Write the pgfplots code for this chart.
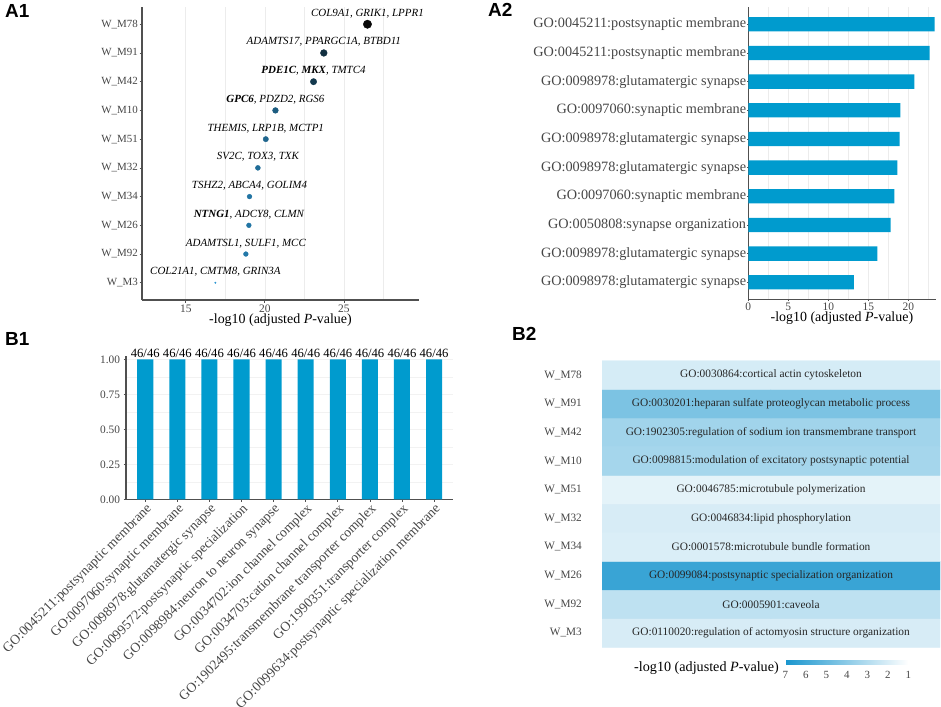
\documentclass[border=0pt]{standalone}
\usepackage{fontspec}
\setmainfont{Liberation Serif}
\newfontfamily\panelfont{Liberation Sans}
\usepackage{pgfplots}
\usepackage{pgfplotstable}
\pgfplotsset{compat=1.18}

\definecolor{barblue}{RGB}{0,155,206}
\definecolor{gridgray}{RGB}{236,236,236}
\definecolor{axisgray}{RGB}{80,80,80}
\definecolor{ticktext}{RGB}{70,70,70}

\newcommand{\fsz}[1]{\fontsize{#1}{#1}\selectfont}

\pgfplotsset{
  gg/.style={
    scale only axis,
    /pgf/number format/assume math mode=true,
    axis lines*=left,
    axis line style={-, axisgray, line width=1.1bp},
    tick style={axisgray, line width=0.7bp},
    tick align=outside,
    major tick length=2.5bp,
    minor tick length=0pt,
    grid style={gridgray, line width=0.6bp},
    minor grid style={gridgray, line width=0.5bp},
    ticklabel style={text=ticktext},
  }
}

% A1: module enrichment (x = -log10 adj. p, y = module row, r = dot radius)
\pgfplotstableread{
x     y  r
16.87 1  0.8
18.80 2  2.4
18.99 3  2.4
19.03 4  2.4
19.56 5  2.5
20.06 6  2.7
20.67 7  2.9
23.08 8  3.2
23.73 9  3.4
26.49 10 4.2
}\modA

% A2: top GO term per module
\pgfplotstableread{
y  v
10 23.30
9  22.67
8  20.75
7  19.00
6  18.92
5  18.63
4  18.25
3  17.80
2  16.13
1  13.20
}\goA

% B2: heatmap of -log10 adj. p (two identical columns span the cell width)
\pgfplotstableread{
x y v
0 1 2.05
1 1 2.05
0 2 2.68
1 2 2.68
0 3 6.15
1 3 6.15
0 4 1.95
1 4 1.95
0 5 2.05
1 5 2.05
0 6 1.70
1 6 1.70
0 7 3.35
1 7 3.35
0 8 3.45
1 8 3.45
0 9 4.40
1 9 4.40
0 10 2.10
1 10 2.10
}\goB

\begin{document}
\begin{tikzpicture}
\useasboundingbox (0,0) rectangle (941bp,-707bp);

% panel letters
\node[font=\panelfont\bfseries\fsz{19}, anchor=north west, inner sep=0] at (5bp,-4bp) {A1};
\node[font=\panelfont\bfseries\fsz{19}, anchor=north west, inner sep=0] at (488bp,-3bp) {A2};
\node[font=\panelfont\bfseries\fsz{19}, anchor=north west, inner sep=0] at (5bp,-332bp) {B1};
\node[font=\panelfont\bfseries\fsz{19}, anchor=north west, inner sep=0] at (512bp,-327bp) {B2};

% ---------------- A1 ----------------
\begin{axis}[gg,
  at={(142bp,-300bp)}, anchor=south west,
  width=277bp, height=293bp,
  clip=false,
  xmin=12.23, xmax=29.75, ymin=0.4, ymax=10.6,
  xtick={15,20,25}, minor xtick={17.5,22.5,27.5},
  xmajorgrids, xminorgrids,
  ytick={1,...,10},
  yticklabels={W\_M3,W\_M92,W\_M26,W\_M34,W\_M32,W\_M51,W\_M10,W\_M42,W\_M91,W\_M78},
  xticklabel style={font=\fsz{11.5}, inner ysep=2bp},
  yticklabel style={font=\fsz{11}, inner xsep=1.5bp},
  xlabel={-log10 (adjusted \textit{P}-value)},
  xlabel style={font=\fsz{14}, at={(axis description cs:0.5,0)}, anchor=center, yshift=-20bp},
  colormap={modmap}{rgb255(0cm)=(42,148,208) rgb255(1cm)=(8,8,8)},
  point meta min=16.87, point meta max=26.49,
]
\addplot[scatter, only marks, mark=*,
  point meta=\thisrow{x},
  scatter/use mapped color={draw=mapped color, fill=mapped color},
  visualization depends on={\thisrow{r}\as\msize},
  scatter/@pre marker code/.append style={/tikz/mark size=\msize pt}]
  table[x=x, y=y]{\modA};
\begin{scope}[every node/.style={font=\fsz{11}\itshape, anchor=base, yshift=8bp, inner sep=0}]
\node at (axis cs:26.49,10) {COL9A1, GRIK1, LPPR1};
\node at (axis cs:23.73,9) {ADAMTS17, PPARGC1A, BTBD11};
\node at (axis cs:23.08,8) {\textbf{PDE1C}, \textbf{MKX}, TMTC4};
\node at (axis cs:20.67,7) {\textbf{GPC6}, PDZD2, RGS6};
\node at (axis cs:20.06,6) {THEMIS, LRP1B, MCTP1};
\node at (axis cs:19.56,5) {SV2C, TOX3, TXK};
\node at (axis cs:19.03,4) {TSHZ2, ABCA4, GOLIM4};
\node at (axis cs:18.99,3) {\textbf{NTNG1}, ADCY8, CLMN};
\node at (axis cs:18.80,2) {ADAMTSL1, SULF1, MCC};
\node at (axis cs:16.87,1) {COL21A1, CMTM8, GRIN3A};
\end{scope}
\end{axis}

% ---------------- A2 ----------------
\begin{axis}[gg,
  at={(748.3bp,-299.5bp)}, anchor=south west,
  width=187.2bp, height=292.4bp,
  xmin=0, xmax=23.4, ymin=0.4, ymax=10.6,
  xtick={0,5,10,15,20}, minor xtick={2.5,7.5,12.5,17.5,22.5},
  xmajorgrids, xminorgrids,
  ytick={1,...,10},
  yticklabels={GO:0098978:glutamatergic synapse,
               GO:0098978:glutamatergic synapse,
               GO:0050808:synapse organization,
               GO:0097060:synaptic membrane,
               GO:0098978:glutamatergic synapse,
               GO:0098978:glutamatergic synapse,
               GO:0097060:synaptic membrane,
               GO:0098978:glutamatergic synapse,
               GO:0045211:postsynaptic membrane,
               GO:0045211:postsynaptic membrane},
  major tick length=1.5bp,
  xticklabel style={font=\fsz{11.5}, inner ysep=2bp},
  yticklabel style={font=\fsz{14.3}, inner xsep=0.5bp},
  xlabel={-log10 (adjusted \textit{P}-value)},
  xlabel style={font=\fsz{14}, at={(axis description cs:0.5,0)}, anchor=center, yshift=-19bp},
]
\addplot[xbar, bar width=0.5, fill=barblue, draw=none] table[x=v, y=y]{\goA};
\end{axis}

% ---------------- B1 ----------------
\begin{axis}[gg,
  at={(126bp,-499.3bp)}, anchor=south west,
  width=327.3bp, height=143.5bp,
  xmin=0.4, xmax=10.6, ymin=0, ymax=1.025,
  ytick={0,0.25,0.5,0.75,1}, minor ytick={0.125,0.375,0.625,0.875},
  ymajorgrids, yminorgrids,
  grid style={gridgray!70, line width=0.5bp},
  minor grid style={gridgray!70, line width=0.5bp},
  yticklabel style={font=\fsz{11.4}, /pgf/number format/.cd, fixed, fixed zerofill, precision=2},
  xtick={1,...,10},
  xticklabels={GO:0045211:postsynaptic membrane,
               GO:0097060:synaptic membrane,
               GO:0098978:glutamatergic synapse,
               GO:0099572:postsynaptic specialization,
               GO:0098984:neuron to neuron synapse,
               GO:0034702:ion channel complex,
               GO:0034703:cation channel complex,
               GO:1902495:transmembrane transporter complex,
               GO:1990351:transporter complex,
               GO:0099634:postsynaptic specialization membrane},
  xticklabel style={font=\fsz{13.7}, rotate=45, anchor=north east, inner sep=0.5bp},
]
\addplot[ybar, bar width=0.5, fill=barblue, draw=none,
  nodes near coords={46/46},
  every node near coord/.append style={font=\fsz{12.7}, text=black, anchor=south, inner sep=1bp}]
  coordinates {(1,1) (2,1) (3,1) (4,1) (5,1) (6,1) (7,1) (8,1) (9,1) (10,1)};
\end{axis}

% ---------------- B2 ----------------
\begin{axis}[scale only axis,
  at={(602bp,-647.3bp)}, anchor=south west,
  width=338bp, height=286.6bp,
  xmin=-0.5, xmax=1.5, ymin=0.5, ymax=10.5,
  axis line style={draw=none},
  major tick length=0pt,
  xtick=\empty,
  ytick={1,...,10},
  yticklabels={W\_M3,W\_M92,W\_M26,W\_M34,W\_M32,W\_M51,W\_M10,W\_M42,W\_M91,W\_M78},
  yticklabel style={font=\fsz{11.3}, text=ticktext, inner xsep=0, xshift=-20bp},
  colormap={heat}{rgb255(0cm)=(255,255,255) rgb255(1cm)=(26,150,206)},
  point meta min=1, point meta max=7,
  colorbar horizontal,
  colorbar style={
    at={(0.5423,-0.0443)}, anchor=north west,
    scale only axis, width=123bp, height=4bp,
    x dir=reverse,
    xtick={1,...,7},
    major tick length=0pt,
    axis line style={draw=none},
    xticklabel pos=lower,
    xticklabel style={font=\fsz{11}, text=ticktext, yshift=-4bp},
    /pgf/number format/assume math mode=true,
  },
]
\addplot[matrix plot*, mesh/cols=2, point meta=explicit] table[x=x, y=y, meta=v]{\goB};
\begin{scope}[every node/.style={font=\fsz{11.4}, text=black!85}]
\node at (axis cs:0.5,10) {GO:0030864:cortical actin cytoskeleton};
\node at (axis cs:0.5,9) {GO:0030201:heparan sulfate proteoglycan metabolic process};
\node at (axis cs:0.5,8) {GO:1902305:regulation of sodium ion transmembrane transport};
\node at (axis cs:0.5,7) {GO:0098815:modulation of excitatory postsynaptic potential};
\node at (axis cs:0.5,6) {GO:0046785:microtubule polymerization};
\node at (axis cs:0.5,5) {GO:0046834:lipid phosphorylation};
\node at (axis cs:0.5,4) {GO:0001578:microtubule bundle formation};
\node at (axis cs:0.5,3) {GO:0099084:postsynaptic specialization organization};
\node at (axis cs:0.5,2) {GO:0005901:caveola};
\node at (axis cs:0.5,1) {GO:0110020:regulation of actomyosin structure organization};
\end{scope}
\end{axis}
\node[font=\fsz{14.2}, anchor=east, inner sep=0] at (779bp,-667.7bp) {-log10 (adjusted \textit{P}-value)};

\end{tikzpicture}
\end{document}
